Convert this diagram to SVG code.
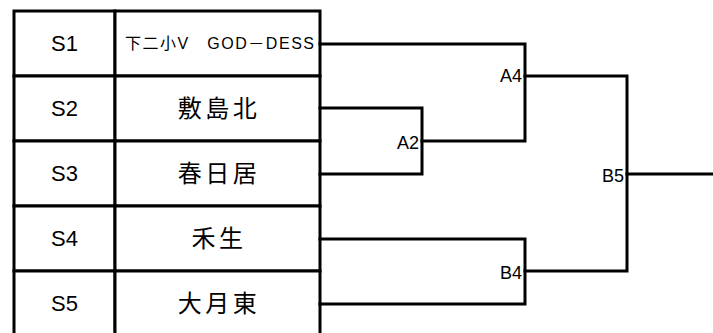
<svg xmlns="http://www.w3.org/2000/svg" width="713" height="333" viewBox="0 0 713 333">
<style>
.cell{fill:#fff;stroke:#000;stroke-width:3}
.seed{font-family:"Liberation Sans","Noto Sans CJK JP",sans-serif;font-size:22px;text-anchor:middle;fill:#000}
.team{font-family:"Noto Sans CJK JP","Liberation Sans",sans-serif;font-size:24px;letter-spacing:3.5px;text-anchor:middle;fill:#000}
.team-sm{font-family:"Liberation Sans","Noto Sans CJK JP",sans-serif;font-size:16px;fill:#000}
.lbl{font-family:"Liberation Sans",sans-serif;font-size:18px;text-anchor:end;fill:#000}
.wire{fill:none;stroke:#000;stroke-width:3;stroke-linecap:square}
</style>
<rect width="713" height="333" fill="#fff"/>
<g id="row-S1">
<rect class="cell" x="14" y="11" width="101" height="65"/>
<rect class="cell" x="115" y="11" width="205" height="65"/>
<text class="seed" x="64.5" y="51">S1</text>
<text class="team-sm" x="125" y="49" textLength="189" lengthAdjust="spacing">下二小V　GOD－DESS</text>
</g>
<g id="row-S2">
<rect class="cell" x="14" y="76" width="101" height="65"/>
<rect class="cell" x="115" y="76" width="205" height="65"/>
<text class="seed" x="64.5" y="116">S2</text>
<text class="team" x="219" y="117">敷島北</text>
</g>
<g id="row-S3">
<rect class="cell" x="14" y="141" width="101" height="65"/>
<rect class="cell" x="115" y="141" width="205" height="65"/>
<text class="seed" x="64.5" y="181">S3</text>
<text class="team" x="219" y="182">春日居</text>
</g>
<g id="row-S4">
<rect class="cell" x="14" y="206" width="101" height="65"/>
<rect class="cell" x="115" y="206" width="205" height="65"/>
<text class="seed" x="64.5" y="246">S4</text>
<text class="team" x="219" y="247">禾生</text>
</g>
<g id="row-S5">
<rect class="cell" x="14" y="271" width="101" height="65"/>
<rect class="cell" x="115" y="271" width="205" height="65"/>
<text class="seed" x="64.5" y="311">S5</text>
<text class="team" x="219" y="312">大月東</text>
</g>
<g id="connectors">
<path class="wire" d="M320 108 H422 V174 H320"/>
<path class="wire" d="M320 44 H525 V141 H422"/>
<path class="wire" d="M320 239 H525 V304 H320"/>
<path class="wire" d="M525 76 H627 V271 H525"/>
<path class="wire" d="M627 174 H713"/>
</g>
<g id="match-A2"><text class="lbl" x="419" y="149">A2</text></g>
<g id="match-A4"><text class="lbl" x="522" y="82">A4</text></g>
<g id="match-B4"><text class="lbl" x="522" y="279">B4</text></g>
<g id="match-B5"><text class="lbl" x="624" y="182">B5</text></g>
</svg>
